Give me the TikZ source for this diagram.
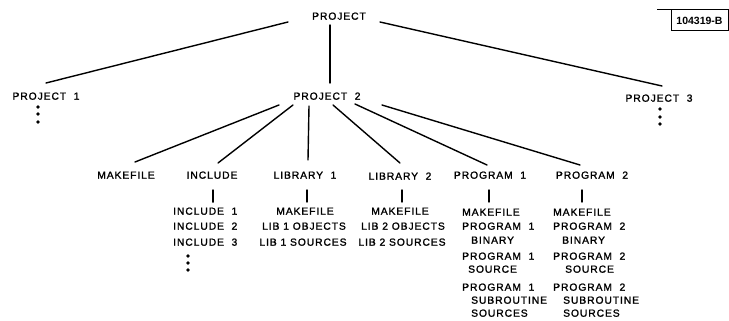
\documentclass[tikz,border=0pt]{standalone}
\usepackage{fontspec}
\newfontfamily\lf[LetterSpace=9,FakeBold=1.5]{Liberation Sans}
\newfontfamily\tagf{Liberation Sans Bold}
\usetikzlibrary{calc}
\begin{document}
\begin{tikzpicture}[x=1pt,y=-1pt,
  lbl/.style={inner sep=0pt, text height=7.4pt, text depth=0pt, font=\lf\fontsize{10.3}{11}\selectfont},
  lblw/.style={lbl, anchor=west},
  edge/.style={line width=1.4pt, line cap=round},
  dot/.style={circle, fill=black, inner sep=0pt, minimum size=3.6pt}]
\useasboundingbox (0,0) rectangle (729,321);
% top levels
\node[lbl] (root) at (339,16) {PROJECT};
\node[lbl] (p1) at (46,96) {PROJECT\ \ 1};
\node[lbl] (p2) at (327,96) {PROJECT\ \ 2};
\node[lbl] (p3) at (659,98) {PROJECT\ \ 3};
% tag
\node[draw, line width=1pt, inner sep=0pt, minimum height=21pt, minimum width=57pt, font=\tagf\fontsize{10.5}{11}\selectfont] (tag) at (699.5,20.5) {104319-B};
\draw[line width=1pt] ($(tag.north west)+(1,0.5)$) -- ++(-15,0);
% dots
\node[dot] (p1d1) at (38,107) {};
\node[dot] (p1d2) at (38,114) {};
\node[dot] (p1d3) at (38,122) {};
\node[dot] (p3d1) at (660,109) {};
\node[dot] (p3d2) at (660,117) {};
\node[dot] (p3d3) at (660,124) {};
% children
\node[lbl] (mk) at (126,175) {MAKEFILE};
\node[lbl] (inc) at (212,175) {INCLUDE};
\node[lbl] (lib1) at (305,175) {LIBRARY\ \ 1};
\node[lbl] (lib2) at (400,176) {LIBRARY\ \ 2};
\node[lbl] (prog1) at (490,175) {PROGRAM\ \ 1};
\node[lbl] (prog2) at (592,175) {PROGRAM\ \ 2};
% include list
\node[lblw] (inc1) at (173,211) {INCLUDE\ \ 1};
\node[lblw] (inc2) at (173,226) {INCLUDE\ \ 2};
\node[lblw] (inc3) at (173,242) {INCLUDE\ \ 3};
\node[dot] (incd1) at (188,256) {};
\node[dot] (incd2) at (188,263) {};
\node[dot] (incd3) at (188,270) {};
% library 1 list
\node[lbl] (l1a) at (305,211) {MAKEFILE};
\node[lbl] (l1b) at (304,226) {LIB 1 OBJECTS};
\node[lbl] (l1c) at (303,242) {LIB 1 SOURCES};
% library 2 list
\node[lbl] (l2a) at (400,211) {MAKEFILE};
\node[lbl] (l2b) at (403,226) {LIB 2 OBJECTS};
\node[lbl] (l2c) at (402,242) {LIB 2 SOURCES};
% program 1 list
\node[lblw] (g1a) at (462,212) {MAKEFILE};
\node[lblw] (g1b) at (462,226) {PROGRAM\ \ 1};
\node[lblw] (g1c) at (471,240) {BINARY};
\node[lblw] (g1d) at (462,256) {PROGRAM\ \ 1};
\node[lblw] (g1e) at (468,269) {SOURCE};
\node[lblw] (g1f) at (462,287) {PROGRAM\ \ 1};
\node[lblw] (g1g) at (471,300) {SUBROUTINE};
\node[lblw] (g1h) at (471,313) {SOURCES};
% program 2 list
\node[lblw] (g2a) at (553,212) {MAKEFILE};
\node[lblw] (g2b) at (553,226) {PROGRAM\ \ 2};
\node[lblw] (g2c) at (562,240) {BINARY};
\node[lblw] (g2d) at (553,256) {PROGRAM\ \ 2};
\node[lblw] (g2e) at (565,269) {SOURCE};
\node[lblw] (g2f) at (553,287) {PROGRAM\ \ 2};
\node[lblw] (g2g) at (563,300) {SUBROUTINE};
\node[lblw] (g2h) at (563,313) {SOURCES};
% connectors
\draw[edge] ($(root)+(-51,6)$) -- ($(p1)+(0,-13)$);
\draw[edge] ($(root)+(-9,9)$) -- ($(p2)+(3,-13)$);
\draw[edge] ($(root)+(41,6)$) -- ($(p3)+(3,-12)$);
\draw[edge] ($(p2)+(-48,9)$) -- ($(mk)+(9,-13)$);
\draw[edge] ($(p2)+(-34,9)$) -- ($(inc)+(6,-12)$);
\draw[edge] ($(p2)+(-18,10)$) -- ($(lib1)+(3,-15)$);
\draw[edge] ($(p2)+(6,9)$) -- ($(lib2)+(0,-13)$);
\draw[edge] ($(p2)+(28,8)$) -- ($(prog1)+(-3,-10)$);
\draw[edge] ($(p2)+(55,9)$) -- ($(prog2)+(-12,-10)$);
\draw[edge] ($(inc)+(1,15)$) -- ($(inc1.north west)+(40,-5)$);
\draw[edge] ($(lib1)+(2,15)$) -- ($(l1a)+(2,-9)$);
\draw[edge] ($(lib2)+(2,14)$) -- ($(l2a)+(2,-9)$);
\draw[edge] ($(prog1)+(-1,15)$) -- ($(g1a.west)+(27,-10)$);
\draw[edge] ($(prog2)+(-10,15)$) -- ($(g2a.west)+(29,-10)$);
\end{tikzpicture}
\end{document}
